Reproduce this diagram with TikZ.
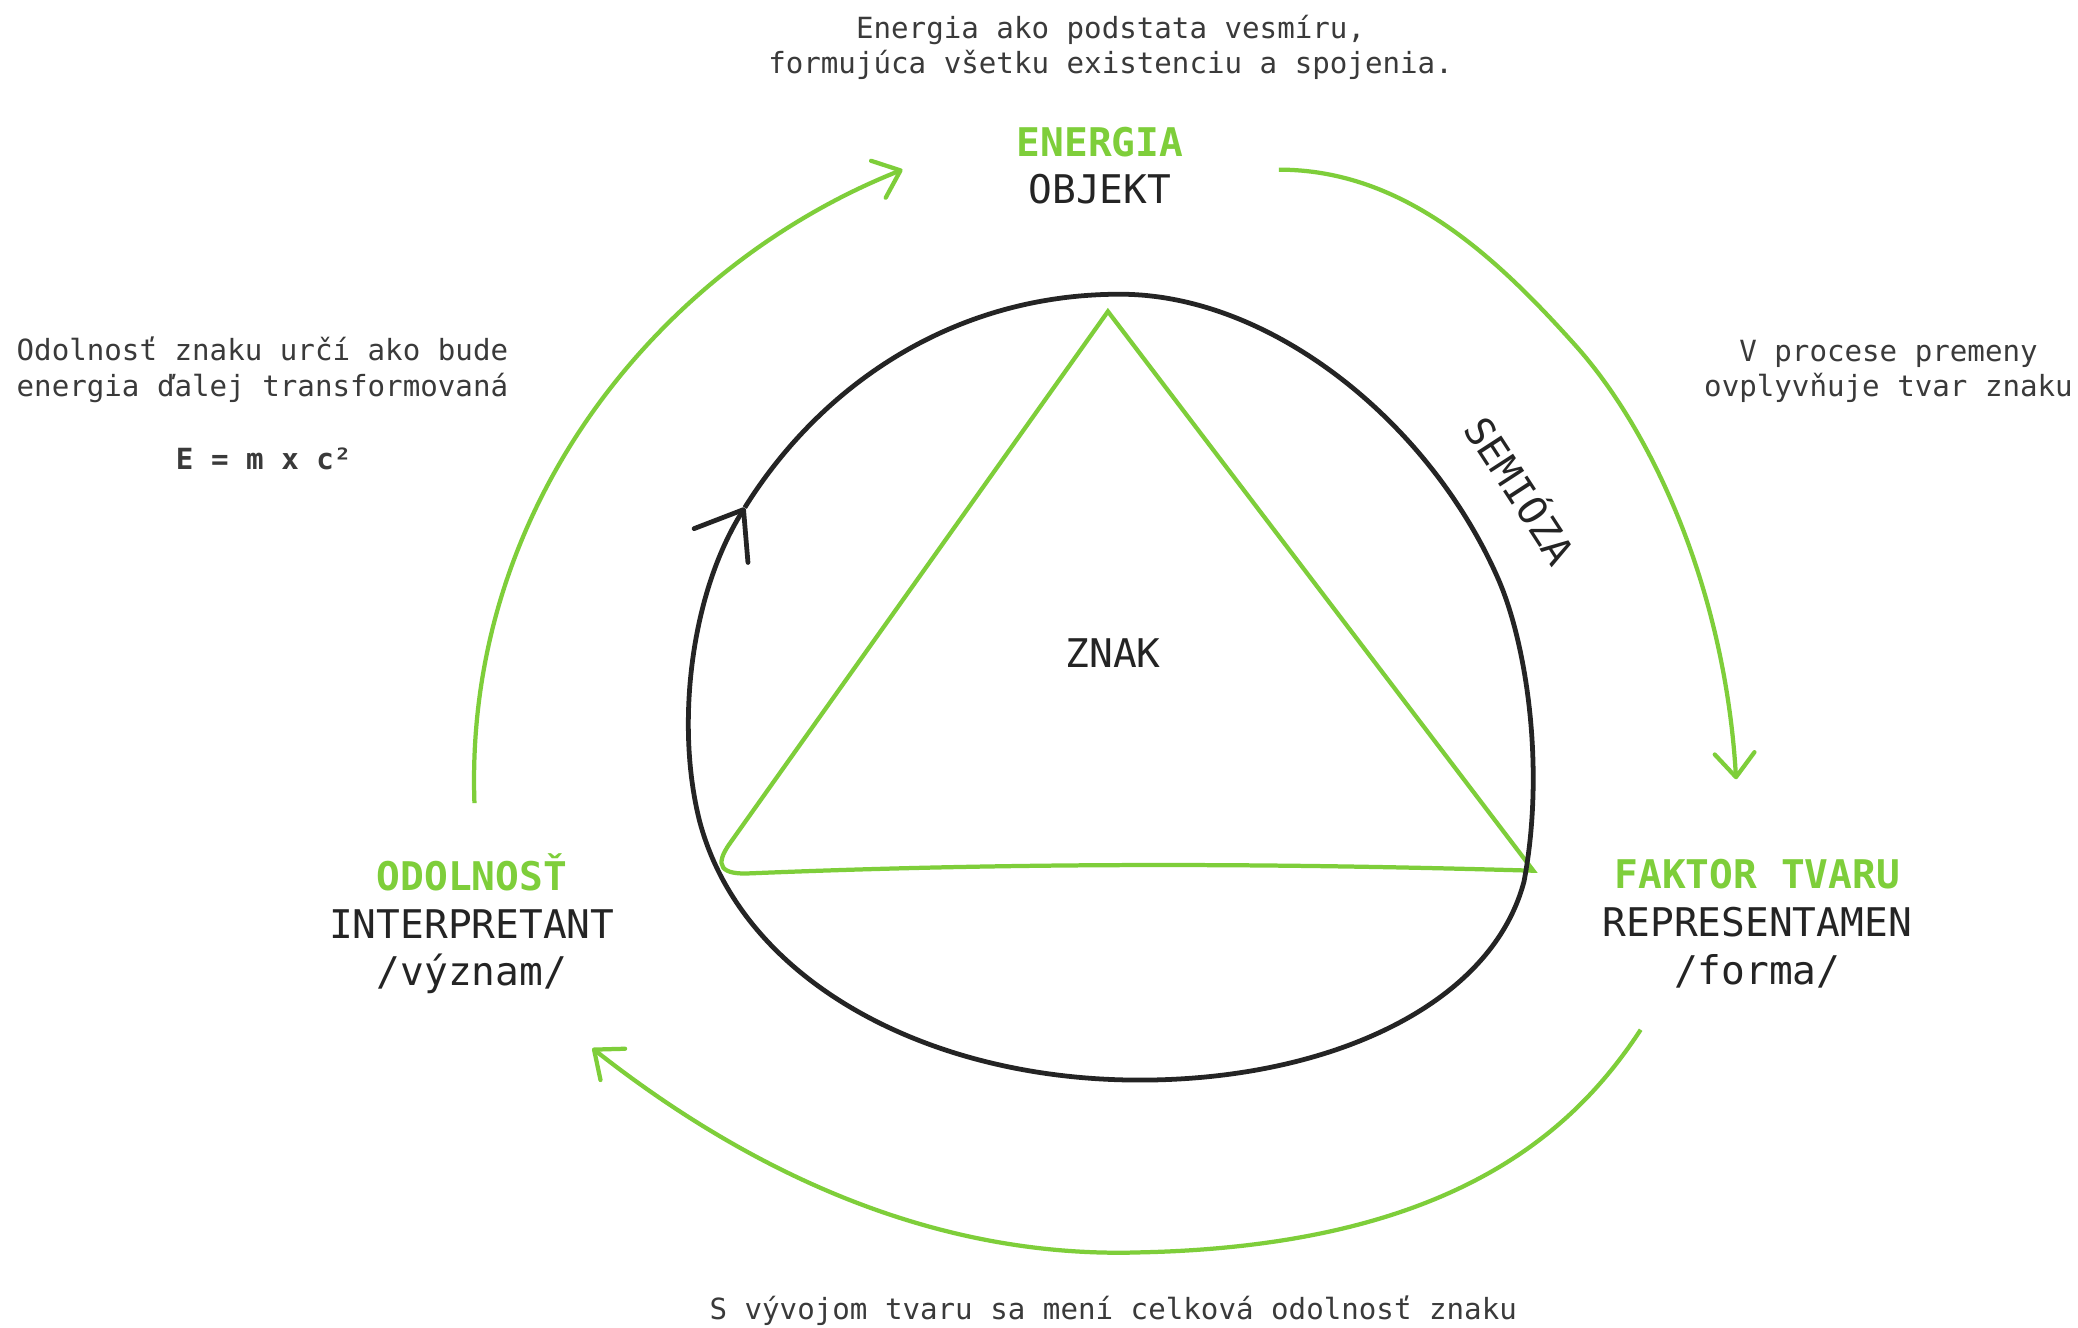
\documentclass[tikz,border=0pt]{standalone}
\usepackage{fontspec}
\setmainfont{DejaVu Sans Mono}
\usetikzlibrary{arrows.meta}
\definecolor{grn}{RGB}{126,206,58}
\definecolor{ink}{RGB}{36,36,36}

\begin{document}
\begin{tikzpicture}[x=0.5pt, y=-0.5pt,
  lbl/.style={align=center, inner sep=0pt, text=ink, font=\fontsize{14.9}{18}\selectfont},
  note/.style={align=center, inner sep=0pt, text=ink!90, font=\fontsize{11}{13.3}\selectfont},
  garr/.style={grn, line width=1.6pt, -{Straight Barb[length=9pt, width=15pt, round]}},
  semio/.style={ink, line width=1.8pt, -{Straight Barb[length=16pt, width=24pt, round]}}]
\fill[white] (0,0) rectangle (1568,1002);
\useasboundingbox (0,0) rectangle (1568,1002);
\node[lbl] (objekt) at (830,125) {\textcolor{grn}{\bfseries ENERGIA}\\OBJEKT};
\node[lbl] (interpretant) at (356,697) {\textcolor{grn}{\bfseries ODOLNOSŤ}\\INTERPRETANT\\/význam/};
\node[lbl] (representamen) at (1326,697) {\textcolor{grn}{\bfseries FAKTOR TVARU}\\REPRESENTAMEN\\/forma/};
\node[lbl] (znak) at (840,493) {ZNAK};
\node[lbl, rotate=-57] (semioza) at (1149,369) {SEMIÓZA};
\node[note] (energianote) at (838,36) {Energia ako podstata vesmíru,\\formujúca všetku existenciu a spojenia.};
\node[note] (odolnostnote) at (198,279) {Odolnosť znaku určí ako bude\\energia ďalej transformovaná};
\node[note, font=\fontsize{11}{13.3}\selectfont\bfseries] (vzorec) at (199,346) {E = m x c²};
\node[note] (tvarnote) at (1425,280) {V procese premeny\\ovplyvňuje tvar znaku};
\node[note] (vyvojnote) at (840,989) {S vývojom tvaru sa mení celková odolnosť znaku};
\coordinate (obj-out) at (965,128);
\coordinate (rep-in) at (1310,588);
\coordinate (rep-out) at (1238,777);
\coordinate (int-in) at (447,791);
\coordinate (int-out) at (358,606);
\coordinate (obj-in) at (681,128);
\coordinate (tip) at (562,383);
\draw[garr] (obj-out) .. controls (1060,128) and (1130,195) .. (1190,262) .. controls (1250,330) and (1302,450) .. (rep-in);
\draw[garr] (rep-out) .. controls (1190,850) and (1100,940) .. (860,945) .. controls (700,950) and (560,880) .. (int-in);
\draw[garr] (int-out) .. controls (350,380) and (500,200) .. (obj-in);
\draw[grn, line width=1.6pt] (836,235) -- (551,636) .. controls (538,654) and (545,660) .. (566,659) .. controls (760,651) and (950,651) .. (1157,657) -- cycle;
\draw[semio] (tip) .. controls (620,290) and (720,222) .. (845,222) .. controls (960,222) and (1080,320) .. (1131,438)
  .. controls (1152,487) and (1166,580) .. (1150,665) .. controls (1125,760) and (1000,815) .. (860,815)
  .. controls (700,815) and (560,740) .. (528,620) .. controls (510,550) and (520,450) .. (tip);
\end{tikzpicture}
\end{document}
